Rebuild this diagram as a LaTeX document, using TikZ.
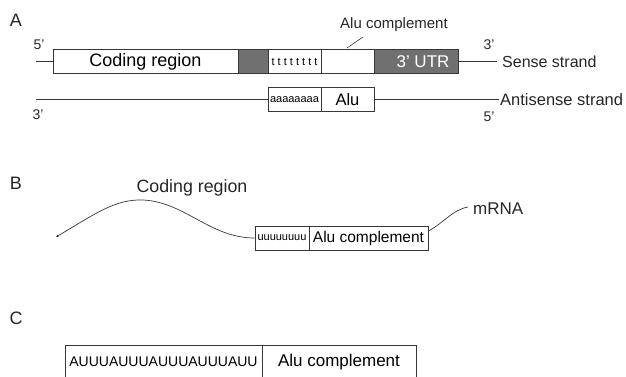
\documentclass[tikz,border=0pt]{standalone}
\usepackage{fontspec}
\setmainfont{Liberation Sans}
\usetikzlibrary{arrows.meta}
\definecolor{dk}{RGB}{112,112,112}
\definecolor{ln}{RGB}{55,55,55}
\newcommand{\fs}[1]{\fontsize{#1}{#1}\selectfont}
\begin{document}
\begin{tikzpicture}[x=1pt,y=-1pt,
  box/.style={draw=ln, line width=0.8pt, inner sep=0pt, minimum height=24pt},
  dbox/.style={box, fill=dk, text=white},
  wire/.style={draw=ln, line width=0.8pt},
  lbl/.style={inner sep=0pt, text=black!85}]
\useasboundingbox (0,0) rectangle (626,377);
\clip (0,0) rectangle (626,377);
% Panel A
\node[lbl] (pa) at (16,20) {\fs{18}A};
\node[lbl] (p5a) at (39,45) {\fs{14}5'};
\node[lbl] (p3a) at (38,115) {\fs{14}3'};
\node[lbl] (p3b) at (489,45) {\fs{14}3'};
\node[lbl] (p5b) at (489,117) {\fs{14}5'};
\node[box, minimum width=185pt] (cod) at (145.5,61.5) {\fs{18}Coding region};
\node[dbox, minimum width=30pt] (dk1) at (253,61.5) {};
\node[box, minimum width=53pt] (tbox) at (294.5,61.5) {\fs{11}t t t t t t t t};
\node[box, minimum width=53pt] (wbox) at (347.5,61.5) {};
\node[dbox, minimum width=84pt] (utr) at (416,61.5) {\fs{17}\hspace*{14pt}3' UTR};
\node[box, minimum width=53pt] (abox) at (294.5,99.5) {\fs{11}aaaaaaaa};
\node[box, minimum width=53pt] (alu) at (347.5,99.5) {\fs{16.5}Alu};
\coordinate (s1) at (36,61.5);
\coordinate (s2) at (497,61.5);
\coordinate (a1) at (36,99.5);
\coordinate (a2) at (499,99.5);
\draw[wire] (s1) -- (cod.west);
\draw[wire] (utr.east) -- (s2);
\draw[wire] (a1) -- (abox.west);
\draw[wire] (alu.east) -- (a2);
\node[lbl, anchor=west] (sense) at (502,62) {\fs{16}Sense strand};
\node[lbl, anchor=west] (anti) at (500,100) {\fs{16.5}Antisense strand};
\node[lbl] (aluc) at (394,25) {\fs{15}Alu complement};
\coordinate (lead) at (347,48);
\draw[wire, line width=0.6pt] (lead) -- (363,37);
% Panel B
\node[lbl] (pb) at (16,183) {\fs{18}B};
\node[lbl] (codb) at (192,188) {\fs{17.8}Coding region};
\node[box, minimum width=54pt] (ubox) at (282,238) {\fs{11}uuuuuuuu};
\node[box, minimum width=119pt] (acb) at (368.5,238) {\fs{15.5}Alu complement};
\coordinate (tail) at (56,237);
\draw[wire, line width=0.7pt, {Stealth[length=3pt,width=2.5pt]}-] (tail) .. controls (95,214) and (115,199) .. (143,200) .. controls (185,202) and (210,238) .. (ubox.west);
\coordinate (mend) at (468,207);
\draw[wire, line width=0.7pt] ([yshift=7pt]acb.east) .. controls (445,222) and (452,210) .. (mend);
\node[lbl, anchor=west] (mrna) at (473,209) {\fs{17}mRNA};
% Panel C
\node[lbl] (pc) at (16,318) {\fs{18}C};
\node[box, minimum width=197pt, minimum height=34pt] (cl) at (163.5,362) {\fs{14}AUUUAUUUAUUUAUUUAUU};
\node[box, minimum width=154pt, minimum height=34pt] (cr) at (339,362) {\fs{17}Alu complement};
\end{tikzpicture}
\end{document}
